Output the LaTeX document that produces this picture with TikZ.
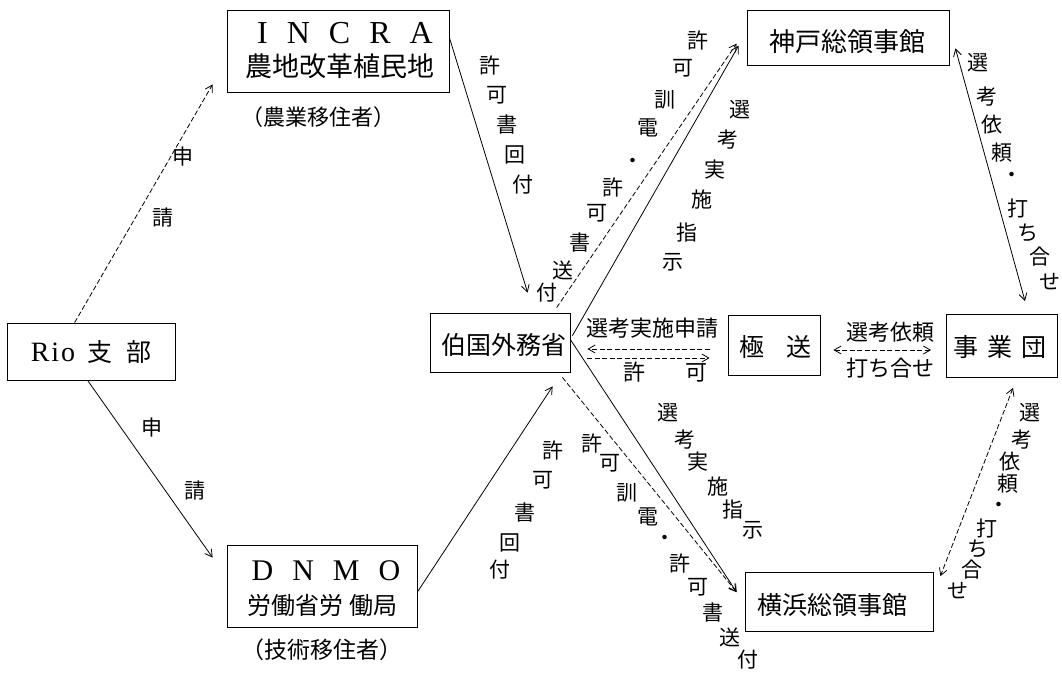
\documentclass[tikz,border=0pt]{standalone}
\usepackage{fontspec}
\newfontfamily\jp{Noto Sans CJK JP}
\newfontfamily\lat{Liberation Serif}
\usetikzlibrary{arrows.meta,calc}
\newcommand{\lgap}{\hspace{19pt}}
\begin{document}
\begin{tikzpicture}[x=1pt,y=-1pt,
  bx/.style={draw,line width=0.8pt,inner sep=0pt},
  jt/.style={inner sep=0pt,font=\jp\fontsize{25}{28}\selectfont},
  pt/.style={inner sep=0pt,font=\jp\fontsize{22}{24}\selectfont},
  vl/.style={inner sep=0pt,font=\jp\fontsize{21}{22}\selectfont},
  ml/.style={inner sep=0pt,font=\jp\fontsize{22}{24}\selectfont},
  ln/.style={line width=0.8pt},
  arr/.style={ln,-{Straight Barb[length=7pt,width=8pt]}},
  darr/.style={ln,{Straight Barb[length=7pt,width=8pt]}-{Straight Barb[length=7pt,width=8pt]}},
  dsh/.style={dash pattern=on 5pt off 2.5pt}]
\useasboundingbox (0,0) rectangle (1062,672);
\fill[white] (0,0) rectangle (1062,672);

% boxes
\node[bx,minimum width=222pt,minimum height=82pt] (incra) at (338,51) {};
\node[bx,minimum width=168pt,minimum height=57pt] (rio) at (91,351.5) {};
\node[bx,minimum width=190pt,minimum height=82pt] (dnmo) at (322,586) {};
\node[bx,minimum width=140pt,minimum height=59pt] (gaimu) at (500,342.5) {};
\node[bx,minimum width=92pt,minimum height=60pt] (gokuso) at (774,345) {};
\node[bx,minimum width=111pt,minimum height=63pt] (jigyo) at (1002,346) {};
\node[bx,minimum width=202pt,minimum height=55pt] (kobe) at (848,37.5) {};
\node[bx,minimum width=188pt,minimum height=59pt] (yoko) at (839,602) {};

% box texts
\node[inner sep=0pt,font=\lat\fontsize{32}{34}\selectfont] (incraA) at (345,33) {I\lgap N\lgap C\lgap R\lgap A};
\node[jt,font=\jp\fontsize{27}{28}\selectfont] (incraB) at (340,66) {農地改革植民地};
\node[pt] (incraC) at (318,117) {（農業移住者）};
\node[inner sep=0pt,font=\lat\fontsize{28}{30}\selectfont] (rioT) at (91,352) {R\hspace{2pt}i\hspace{2pt}o\hspace{12pt}{\jp\fontsize{25}{26}\selectfont 支}\hspace{14pt}{\jp\fontsize{25}{26}\selectfont 部}};
\node[inner sep=0pt,font=\lat\fontsize{30}{32}\selectfont] (dnmoA) at (326,571) {D\lgap N\lgap M\lgap O};
\node[jt,font=\jp\fontsize{24}{26}\selectfont] (dnmoB) at (322,605) {労働省労\hspace{6pt}働局};
\node[pt,font=\jp\fontsize{23}{24}\selectfont] (dnmoC) at (322,650) {（技術移住者）};
\node[jt] (gaimuT) at (504,345) {伯国外務省};
\node[jt] (gokusoT) at (775,347) {極\hspace{22pt}送};
\node[jt] (jigyoT) at (1000,347) {事\hspace{9pt}業\hspace{9pt}団};
\node[jt,font=\jp\fontsize{26}{28}\selectfont] (kobeT) at (847,42) {神戸総領事館};
\node[jt] (yokoT) at (832,605) {横浜総領事館};

% connectors
\draw[arr,dsh] ($(rio.north west)+(68,0)$) -- ($(incra.south west)+(-14,-8)$);
\draw[arr] ($(rio.south west)+(81,0)$) -- ($(dnmo.north west)+(-14,13)$);
\draw[arr] ($(incra.north east)+(0,28)$) -- ($(gaimu.north west)+(98,-20)$);
\draw[arr,dsh] ($(gaimu.north west)+(127,-5)$) -- ($(kobe.north west)+(-10,34)$);
\draw[arr] ($(gaimu.north east)+(2,23)$) -- ($(kobe.north west)+(-8,36)$);
\draw[arr] ($(gaimu.north east)+(0,27)$) -- ($(yoko.north west)+(-8,20)$);
\draw[arr,dsh] ($(gaimu.south east)+(-8,5)$) -- ($(yoko.north west)+(-8,20)$);
\draw[arr] ($(dnmo.east)+(0,6)$) -- ($(gaimu.south west)+(123,14)$);
\draw[arr,dsh] ($(gokuso.west)+(-18,4)$) -- ($(gaimu.east)+(17,6.5)$);
\draw[arr,dsh] ($(gaimu.east)+(17,15.5)$) -- ($(gokuso.west)+(-18,13)$);
\draw[darr,dsh] ($(gokuso.east)+(13,5)$) -- ($(jigyo.west)+(-15,4)$);
\draw[darr] ($(kobe.south east)+(6,-17)$) -- ($(jigyo.north)+(23,-13)$);
\draw[darr,dsh] ($(jigyo.south)+(11,10)$) -- ($(yoko.north east)+(7,4)$);

% horizontal labels
\node[ml] (m1) at (652,328) {選考実施申請};
\node[ml] (m2) at (665,372) {許\hspace{40pt}可};
\node[ml] (m3) at (890,332) {選考依頼};
\node[ml] (m4) at (890,368) {打ち合せ};

% vertical labels
\foreach \c/\x/\y [count=\i] in {申/183/157, 請/163/217}
  \node[vl] (la\i) at (\x,\y) {\c};
\foreach \c/\x/\y [count=\i] in {申/152/428, 請/195/490}
  \node[vl] (lb\i) at (\x,\y) {\c};
\foreach \c/\x/\y [count=\i] in {許/490/65, 可/497/95, 書/507/125, 回/515/155, 付/523/185}
  \node[vl] (lc\i) at (\x,\y) {\c};
\foreach \c/\x/\y [count=\i] in {許/698/40, 可/683/68, 訓/665/100, 電/648/128, ・/633/163, 許/613/187, 可/597/213, 書/580/243, 送/563/270, 付/547/293}
  \node[vl] (ld\i) at (\x,\y) {\c};
\foreach \c/\x/\y [count=\i] in {選/740/110, 考/728/140, 実/715/170, 施/702/200, 指/687/233, 示/673/262}
  \node[vl] (le\i) at (\x,\y) {\c};
\foreach \c/\x/\y [count=\i] in {選/668/413, 考/685/440, 実/698/462, 施/718/487, 指/733/510, 示/753/530}
  \node[vl] (lf\i) at (\x,\y) {\c};
\foreach \c/\x/\y [count=\i] in {許/592/443, 可/610/463, 訓/627/493, 電/648/517, ・/665/540, 許/680/563, 可/698/587, 書/713/613, 送/730/637, 付/748/660}
  \node[vl] (lg\i) at (\x,\y) {\c};
\foreach \c/\x/\y [count=\i] in {許/553/450, 可/543/480, 書/525/513, 回/510/543, 付/500/570}
  \node[vl] (lh\i) at (\x,\y) {\c};
\foreach \c/\x/\y [count=\i] in {選/978/63, 考/987/97, 依/992/125, 頼/1002/153, ・/1012/177, 打/1018/208, ち/1028/233, 合/1040/257, せ/1050/282}
  \node[vl] (li\i) at (\x,\y) {\c};
\foreach \c/\x/\y [count=\i] in {選/1030/413, 考/1022/440, 依/1010/462, 頼/1008/484, ・/999/507, 打/987/528, ち/978/549, 合/972/570, せ/958/591}
  \node[vl] (lj\i) at (\x,\y) {\c};
\end{tikzpicture}
\end{document}
